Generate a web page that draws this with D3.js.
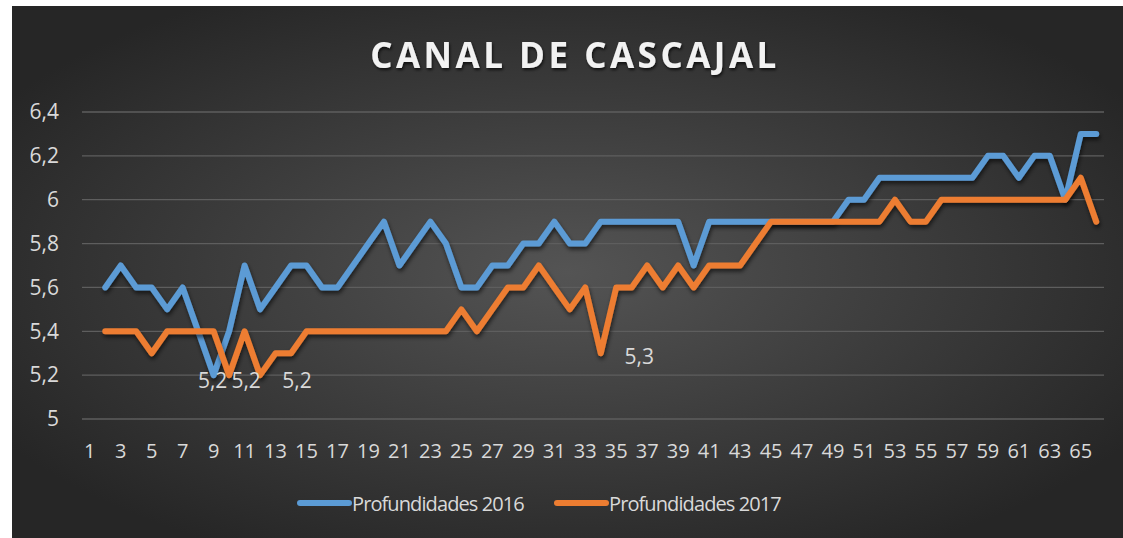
<!DOCTYPE html>
<html>
<head>
<meta charset="utf-8">
<script src="https://cdn.jsdelivr.net/npm/d3@7"></script>
<style>
  body { margin: 0; background: #ffffff; }
  text { font-family: "Open Sans", "Noto Sans", sans-serif; }
</style>
</head>
<body>
<div id="chart"></div>
<script>
"use strict";

// categories 1..66 (first one has no reading)
var categories = d3.range(1, 67);
var seriesNames = ["Profundidades 2016", "Profundidades 2017"];

var depth2016 = [null,
    5.6, 5.7, 5.6, 5.6, 5.5, 5.6, 5.4, 5.2, 5.4, 5.7,
    5.5, 5.6, 5.7, 5.7, 5.6, 5.6, 5.7, 5.8, 5.9, 5.7,
    5.8, 5.9, 5.8, 5.6, 5.6, 5.7, 5.7, 5.8, 5.8, 5.9,
    5.8, 5.8, 5.9, 5.9, 5.9, 5.9, 5.9, 5.9, 5.7, 5.9,
    5.9, 5.9, 5.9, 5.9, 5.9, 5.9, 5.9, 5.9, 6.0, 6.0,
    6.1, 6.1, 6.1, 6.1, 6.1, 6.1, 6.1, 6.2, 6.2, 6.1,
    6.2, 6.2, 6.0, 6.3, 6.3];

var depth2017 = [null,
    5.4, 5.4, 5.4, 5.3, 5.4, 5.4, 5.4, 5.4, 5.2, 5.4,
    5.2, 5.3, 5.3, 5.4, 5.4, 5.4, 5.4, 5.4, 5.4, 5.4,
    5.4, 5.4, 5.4, 5.5, 5.4, 5.5, 5.6, 5.6, 5.7, 5.6,
    5.5, 5.6, 5.3, 5.6, 5.6, 5.7, 5.6, 5.7, 5.6, 5.7,
    5.7, 5.7, 5.8, 5.9, 5.9, 5.9, 5.9, 5.9, 5.9, 5.9,
    5.9, 6.0, 5.9, 5.9, 6.0, 6.0, 6.0, 6.0, 6.0, 6.0,
    6.0, 6.0, 6.0, 6.1, 5.9];

var yTicks = [5, 5.2, 5.4, 5.6, 5.8, 6, 6.2, 6.4];
var xTickLabels = categories.filter(d => d % 2 === 1);

// data labels shown in the chart: category + series index
var labelPoints = [
    {cat: 9, series: 0},
    {cat: 10, series: 1},
    {cat: 12, series: 1},
    {cat: 34, series: 1}
];

var W = 1123, H = 538;
var margin = {top: 112, left: 82, right: 19, bottom: 119};
var width = W - margin.left - margin.right;
var height = H - margin.top - margin.bottom;
var colors = ["#5b9bd5", "#ed7d31"];
var allSeries = [depth2016, depth2017];

var svg = d3.select("#chart")
    .append("svg")
    .attr("width", W)
    .attr("height", H);

var defs = svg.append("defs");
var grad = defs.append("radialGradient")
    .attr("id", "bg")
    .attr("cx", "50%").attr("cy", "50%").attr("r", "60%");
grad.append("stop").attr("offset", "0%").attr("stop-color", "#545454");
grad.append("stop").attr("offset", "100%").attr("stop-color", "#262626");

var shadow = defs.append("filter").attr("id", "shadow")
    .attr("x", "-5%").attr("y", "-5%").attr("width", "110%").attr("height", "120%");
shadow.append("feDropShadow")
    .attr("dx", 1).attr("dy", 3).attr("stdDeviation", 2)
    .attr("flood-color", "#000").attr("flood-opacity", 0.6);

var tshadow = defs.append("filter").attr("id", "tshadow");
tshadow.append("feDropShadow")
    .attr("dx", 1).attr("dy", 2).attr("stdDeviation", 1.5)
    .attr("flood-color", "#000").attr("flood-opacity", 0.7);

svg.append("rect")
    .attr("x", 12).attr("y", 6)
    .attr("width", W - 12).attr("height", H - 6)
    .attr("fill", "url(#bg)");

// title
svg.append("text")
    .attr("x", 575)
    .attr("y", 68)
    .attr("text-anchor", "middle")
    .style("font-size", "35px")
    .style("font-weight", "bold")
    .style("letter-spacing", "3.5px")
    .attr("fill", "#f2f2f2")
    .attr("filter", "url(#tshadow)")
    .text("CANAL DE CASCAJAL");

var g = svg.append("g")
    .attr("transform", "translate(" + margin.left + "," + margin.top + ")");

var x = d3.scaleBand()
    .domain(categories)
    .range([0, width])
    .padding(0);
var cx = d => x(d) + x.bandwidth() / 2;

var y = d3.scaleLinear()
    .domain([5, 6.4])
    .range([height, 0]);

var fmt = v => d3.format(".1f")(v).replace(".0", "").replace(".", ",");

// gridlines
g.append("g")
    .selectAll("line")
    .data(yTicks)
    .enter()
    .append("line")
    .attr("x1", 0).attr("x2", width)
    .attr("y1", d => y(d)).attr("y2", d => y(d))
    .attr("stroke", "#5e5e5e")
    .attr("stroke-width", 1.3);

// Y axis
var yAxis = g.append("g")
    .call(d3.axisLeft(y).tickValues(yTicks).tickSize(0).tickPadding(23).tickFormat(fmt));
yAxis.select(".domain").remove();
yAxis.selectAll("text")
    .style("font-size", "21px")
    .attr("fill", "#d9d9d9");

// X axis
var xAxis = g.append("g")
    .attr("transform", "translate(0," + height + ")")
    .call(d3.axisBottom(x).tickValues(xTickLabels).tickSize(0).tickPadding(25));
xAxis.select(".domain").remove();
xAxis.selectAll("text")
    .style("font-size", "20px")
    .attr("fill", "#d9d9d9");

// lines
var line = d3.line()
    .defined(d => d[1] != null)
    .x(d => cx(d[0]))
    .y(d => y(d[1]));

allSeries.forEach(function (s, i) {
    g.append("path")
        .datum(categories.map((c, j) => [c, s[j]]))
        .attr("d", line)
        .attr("fill", "none")
        .attr("stroke", colors[i])
        .attr("stroke-width", 6)
        .attr("stroke-linejoin", "round")
        .attr("stroke-linecap", "round")
        .attr("filter", "url(#shadow)");
});

// data labels
var labelDx = [-1, 17, 37, 38.5];
var labelDy = [12.5, 12.5, 12.5, 10.5];
g.selectAll(".dlabel")
    .data(labelPoints)
    .enter()
    .append("text")
    .attr("class", "dlabel")
    .attr("x", (d, i) => cx(d.cat) + labelDx[i])
    .attr("y", (d, i) => y(allSeries[d.series][d.cat - 1]) + labelDy[i])
    .attr("text-anchor", "middle")
    .style("font-size", "21px")
    .attr("fill", "#d9d9d9")
    .text(d => fmt(allSeries[d.series][d.cat - 1]));

// legend
var legend = svg.append("g").attr("transform", "translate(0,503)");
var legendX = [300, 557];
seriesNames.forEach(function (name, i) {
    legend.append("line")
        .attr("x1", legendX[i]).attr("x2", legendX[i] + 49)
        .attr("y1", 0).attr("y2", 0)
        .attr("stroke", colors[i])
        .attr("stroke-width", 6)
        .attr("stroke-linecap", "round");
    legend.append("text")
        .attr("x", legendX[i] + 52)
        .attr("y", 7.5)
        .style("font-size", "20px")
        .style("letter-spacing", "-0.9px")
        .attr("fill", "#d9d9d9")
        .text(name);
});
</script>
</body>
</html>
